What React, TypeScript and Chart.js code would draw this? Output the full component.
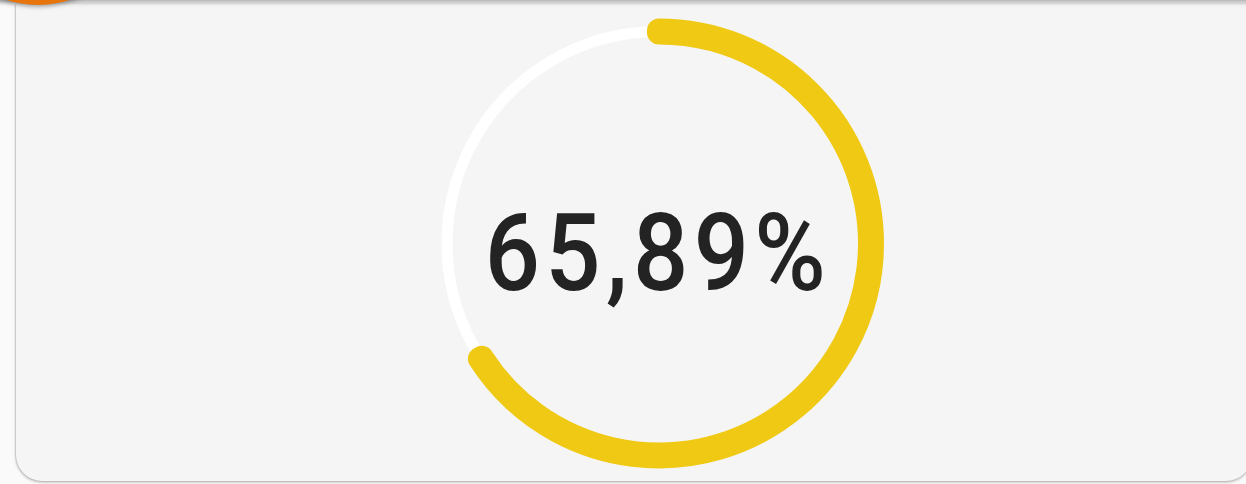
import React, { useEffect, useRef } from "react";
import { Chart, registerables } from "chart.js";

Chart.register(...registerables);

const segmentLabels: string[] = ["Remaining", "Achieved"];
const achievedPercent = 65.89;
const segmentValues: number[] = [100 - achievedPercent, achievedPercent];
const segmentColors: string[] = ["#ffffff", "#efc913"];
const segmentBorderWidths: number[] = [9, 24];
const centerLabel = "65,89%";

export default function App() {
  const canvasRef = useRef<HTMLCanvasElement | null>(null);

  useEffect(() => {
    document.body.style.margin = "0";
    const canvas = canvasRef.current;
    if (!canvas) return;
    const chart = new Chart(canvas, {
      type: "doughnut",
      data: {
        labels: segmentLabels,
        datasets: [
          {
            data: segmentValues,
            backgroundColor: segmentColors,
            borderColor: segmentColors,
            borderWidth: segmentBorderWidths,
            borderJoinStyle: "round",
            borderAlign: "center",
            hoverOffset: 0,
          } as any,
        ],
      },
      options: {
        animation: false,
        responsive: false,
        devicePixelRatio: 1,
        rotation: (segmentValues[1] / 100) * 360,
        circumference: 360,
        radius: 213,
        cutout: "99.06%",
        layout: { padding: 0 },
        events: [],
        plugins: {
          legend: { display: false },
          tooltip: { enabled: false },
        },
      } as any,
    });
    return () => chart.destroy();
  }, []);

  return (
    <div
      style={{
        position: "fixed",
        left: 0,
        top: 0,
        width: 1246,
        height: 484,
        background: "#fafafa",
        overflow: "hidden",
      }}
    >
      <div
        style={{
          position: "absolute",
          left: 16,
          top: 4,
          width: 1236,
          height: 477,
          background: "#f5f5f5",
          borderRadius: "0 0 26px 26px",
          boxShadow: "0 1px 3px rgba(0,0,0,0.35), -1px 0 1px rgba(0,0,0,0.08)",
        }}
      />
      <div
        style={{
          position: "absolute",
          left: -10,
          top: -20,
          width: 1270,
          height: 20,
          background: "#eeeeee",
          boxShadow: "0 2px 5px rgba(0,0,0,0.35)",
        }}
      />
      <div
        style={{
          position: "absolute",
          left: -62,
          top: -195,
          width: 200,
          height: 200,
          borderRadius: "50%",
          background: "#e8750c",
          boxShadow: "0 2px 4px rgba(0,0,0,0.3)",
        }}
      />
      <canvas
        ref={canvasRef}
        width={480}
        height={481}
        style={{ position: "absolute", left: 419, top: 3, width: 480, height: 481 }}
      />
      <div
        style={{
          position: "absolute",
          left: 455,
          width: 400,
          top: 183,
          textAlign: "center",
          fontFamily: "Roboto, sans-serif",
          fontWeight: 500,
          fontSize: 108,
          lineHeight: "140px",
          letterSpacing: 6,
          color: "#232323",
          transform: "translateX(3px) scaleX(0.9)",
          transformOrigin: "50% 50%",
        }}
      >
        {centerLabel}
      </div>
    </div>
  );
}
